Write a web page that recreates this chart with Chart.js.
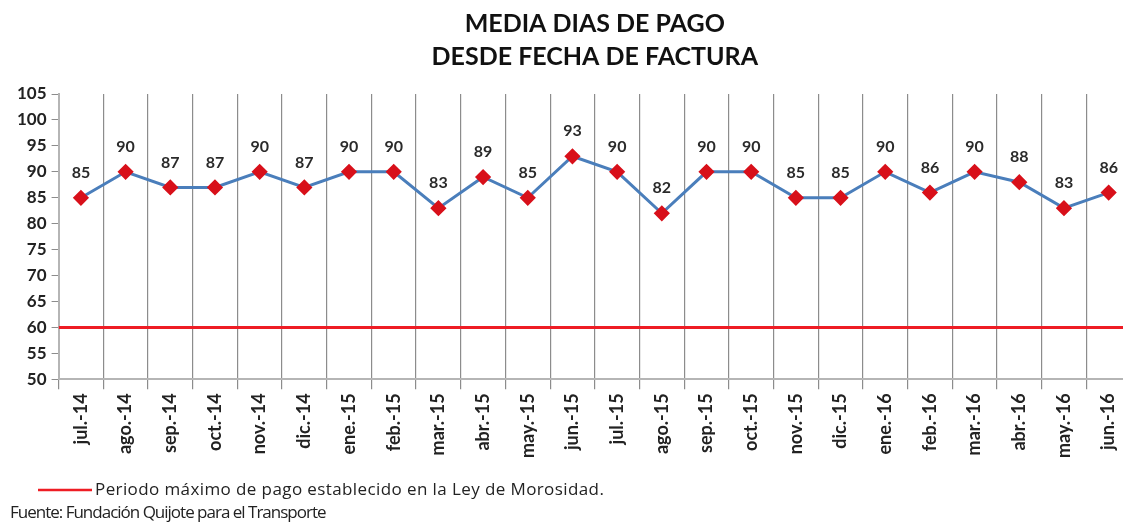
<!DOCTYPE html>
<html>
<head>
<meta charset="utf-8">
<script src="https://cdn.jsdelivr.net/npm/chart.js@4/dist/chart.umd.min.js"></script>
<style>
  html, body { margin: 0; padding: 0; background: #fff; overflow: hidden; }
  /* el gráfico original queda cortado por la derecha */
  #caja { width: 1140px; height: 524px; }
</style>
</head>
<body>
<div id="caja"><canvas id="grafico"></canvas></div>
<script>
// datos
var meses = ['jul.-14', 'ago.-14', 'sep.-14', 'oct.-14', 'nov.-14', 'dic.-14',
  'ene.-15', 'feb.-15', 'mar.-15', 'abr.-15', 'may.-15', 'jun.-15',
  'jul.-15', 'ago.-15', 'sep.-15', 'oct.-15', 'nov.-15', 'dic.-15',
  'ene.-16', 'feb.-16', 'mar.-16', 'abr.-16', 'may.-16', 'jun.-16'];
var mediaDias = [85, 90, 87, 87, 90, 87, 90, 90, 83, 89, 85, 93,
  90, 82, 90, 90, 85, 85, 90, 86, 90, 88, 83, 86];
var limiteLey = 60;
var ejeY = { min: 50, max: 105, paso: 5 };
var titulo = ['MEDIA DIAS DE PAGO', 'DESDE FECHA DE FACTURA'];
var textoLimite = 'Periodo máximo de pago establecido en la Ley de Morosidad.';
var fuente = 'Fuente: Fundación Quijote para el Transporte';

var fuenteBase = 'Lato, "Open Sans", sans-serif';

// etiquetas encima de cada punto
var etiquetas = {
  id: 'etiquetas',
  afterDatasetsDraw: function (chart) {
    var ctx = chart.ctx;
    var meta = chart.getDatasetMeta(0);
    ctx.save();
    ctx.font = 'bold 16px ' + fuenteBase;
    ctx.fillStyle = '#2a2a2a';
    ctx.textAlign = 'center';
    ctx.textBaseline = 'middle';
    meta.data.forEach(function (p, i) {
      ctx.fillText(String(mediaDias[i]), p.x, p.y - 25);
    });
    ctx.restore();
  }
};

// leyenda y fuente al pie
var pie = {
  id: 'pie',
  afterDraw: function (chart) {
    var ctx = chart.ctx;
    var h = chart.height;
    ctx.save();
    ctx.strokeStyle = chart.data.datasets[1].borderColor;
    ctx.lineWidth = 2.5;
    ctx.beginPath();
    ctx.moveTo(38, h - 34);
    ctx.lineTo(92, h - 34);
    ctx.stroke();
    ctx.font = '17px "Open Sans", sans-serif';
    ctx.fillStyle = '#222';
    ctx.textBaseline = 'middle';
    ctx.textAlign = 'left';
    ctx.letterSpacing = '0.4px';
    ctx.fillText(textoLimite, 95, h - 34);
    ctx.letterSpacing = '-1px';
    ctx.fillText(fuente, 10, h - 11);
    ctx.restore();
  }
};

var grafico = new Chart(document.getElementById('grafico'), {
  type: 'line',
  data: {
    labels: meses,
    datasets: [{
      label: 'Media días de pago',
      data: mediaDias,
      borderColor: '#4a7ebb',
      backgroundColor: '#d8101a',
      borderWidth: 3,
      pointStyle: 'rectRot',
      pointRadius: 6,
      pointHoverRadius: 6,
      pointBackgroundColor: '#d8101a',
      pointBorderColor: '#d8101a',
      tension: 0,
      order: 1
    }, {
      label: textoLimite,
      data: [{ x: 0, y: limiteLey }, { x: 1, y: limiteLey }],
      xAxisID: 'x2',
      borderColor: '#ee1c24',
      backgroundColor: '#ee1c24',
      borderWidth: 3,
      pointRadius: 0,
      order: 2
    }]
  },
  options: {
    responsive: true,
    maintainAspectRatio: false,
    animation: false,
    layout: { padding: { left: 12, right: 0, top: 8, bottom: 62 } },
    plugins: {
      title: {
        display: true,
        fullSize: false,
        text: titulo,
        color: '#111',
        font: { family: fuenteBase, size: 25, weight: 'bold', lineHeight: 1.3 },
        padding: { top: 0, bottom: 21 }
      },
      legend: { display: false },
      tooltip: { enabled: false }
    },
    scales: {
      x: {
        offset: true,
        grid: {
          offset: true,
          color: '#8c8c8c',
          lineWidth: 1.2,
          tickLength: 10,
          drawOnChartArea: true
        },
        border: { color: '#b5b5b5', width: 2 },
        ticks: {
          autoSkip: false,
          maxRotation: 90,
          minRotation: 90,
          color: '#222',
          padding: 4,
          font: { family: fuenteBase, size: 18, weight: 'bold' }
        }
      },
      x2: {
        type: 'linear',
        min: 0,
        max: 1,
        display: false
      },
      y: {
        min: ejeY.min,
        max: ejeY.max,
        grid: {
          drawOnChartArea: false,
          color: '#8c8c8c',
          tickLength: 7
        },
        border: { color: '#b5b5b5', width: 2 },
        ticks: {
          stepSize: ejeY.paso,
          color: '#222',
          padding: 5,
          font: { family: fuenteBase, size: 17, weight: 'bold' }
        }
      }
    }
  },
  plugins: [etiquetas, pie]
});
</script>
</body>
</html>
